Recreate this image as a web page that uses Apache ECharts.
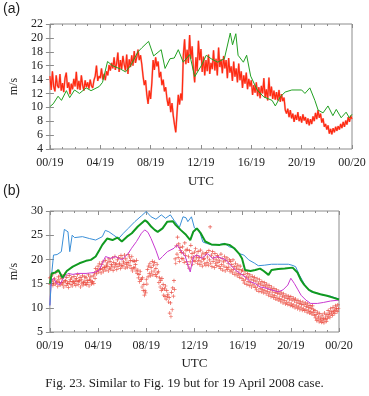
<!DOCTYPE html>
<html>
<head>
<meta charset="utf-8">
<script src="https://cdn.jsdelivr.net/npm/echarts@6/dist/echarts.min.js"></script>
<style>
  html, body { margin: 0; padding: 0; background: #fff; }
  #chart { width: 369px; height: 396px; }
</style>
</head>
<body>
<div id="chart"></div>
<script>
// tick labels, one every 4 hours
const timeLabels = ["00/19", "04/19", "08/19", "12/19", "16/19", "20/19", "00/20"];
const sampleStep = 0.1; // hours between samples of the dense series

// (a) observed wind speed, one value every 0.1 h
const obsA = [
  14.5, 12.5, 15.2, 13, 12.3, 14.6, 13.1, 12.8, 14.8, 12.4,
  13.5, 12.2, 14.2, 15, 12.8, 13.6, 11.9, 13.4, 12.6, 14.1,
  13, 15.1, 12.6, 13.8, 12.5, 14.6, 13.2, 12.4, 13.9, 12.9,
  13.6, 12.7, 14, 13.1, 12.8, 13.9, 14.5, 16, 13.8, 14.5,
  14.2, 15.6, 14, 14.8, 13.9, 15.2, 14.6, 16.1, 15.3, 16.4,
  15.6, 17.2, 15.4, 16.3, 17.9, 15.1, 16.8, 15.5, 17.4, 16.2,
  15.3, 17.6, 14.8, 16.9, 15.8, 17.5, 16, 18.1, 16.4, 17.2,
  18.3, 16.8, 17.5, 16.2, 14.5, 13.2, 13.9, 11.8, 10.5, 12.4,
  11.2, 13.6, 16.8, 15.4, 17.2, 15.9, 16.6, 14.3, 15.1, 13.2,
  14, 12.3, 12.9, 11.2, 10.2, 11.4, 9.3, 10.6, 8.8, 7.5,
  6.4, 9.2, 11.8, 10.4, 12, 11, 17.5, 19.8, 16.2, 18.3,
  16.4, 20.4, 17, 18.8, 15.6, 13.6, 17.2, 15.2, 19.6, 16.8,
  18.4, 15.1, 17.3, 14.6, 16.8, 15.2, 17.6, 14.8, 16.4, 15.5,
  18.2, 15.3, 17, 14.6, 18.6, 15.8, 16.9, 14.9, 17.4, 15.6,
  16.8, 14.2, 17.1, 15, 15.9, 13.8, 16.6, 14.4, 15.6, 13.6,
  16.3, 13.9, 15.2, 12.8, 14.6, 13.4, 15, 12.6, 14.1, 13,
  13.9, 11.8, 13.2, 12.1, 13.6, 11.6, 12.9, 11.3, 13.1, 12,
  14.2, 11.4, 12.6, 11, 14.3, 11.6, 13, 11.2, 12.4, 11.1,
  12.2, 11, 12.5, 10.8, 11.9, 10.9, 11.4, 9.6, 9.1, 9.8,
  8.6, 9.6, 8.4, 9.1, 7.9, 8.9, 8.2, 9.3, 8, 8.7,
  7.8, 9, 8.1, 8.6, 7.6, 8.4, 7.4, 8.3, 7.6, 8.7,
  8, 9.2, 8.3, 9.6, 8.5, 9.1, 7.8, 8.4, 7.2, 7.6,
  6.8, 7.4, 6.2, 6.9, 6.1, 7, 6.4, 7.2, 6.6, 7.3,
  6.8, 7.6, 7, 7.9, 7.2, 8.1, 7.5, 8.6, 7.9, 8.8, 8.3
];

// (a) model, [hour, m/s]
const modelA = [
  [0, 10.1], [0.26, 10.5], [0.65, 11.6], [0.92, 11], [1.31, 12.4], [1.57, 11.4],
  [1.96, 12.5], [2.35, 12], [2.88, 12.8], [3.27, 12.4], [3.92, 13], [4.18, 13.6],
  [4.58, 16.6], [4.97, 16], [5.62, 15.5], [6.01, 15.1], [6.41, 16], [7.0, 18],
  [7.32, 18.6], [7.84, 19.5], [8.24, 17.4], [8.84, 18.3], [9.15, 15.6], [9.54, 17],
  [9.88, 17.1], [10.2, 18.3], [10.59, 16.5], [11.11, 17.6], [11.5, 14.4], [12.03, 16],
  [12.42, 17.5], [12.81, 17], [13.33, 16.5], [13.86, 17], [14.33, 20.7], [14.51, 19],
  [14.77, 20.6], [14.95, 17.5], [15.37, 16.5], [15.63, 17.5], [15.95, 14.5], [16.47, 12.5],
  [16.99, 11.5], [17.65, 11], [17.91, 10.2], [18.3, 11.5], [18.69, 12.2], [19.22, 12.5],
  [20.0, 12.5], [20.26, 12], [20.65, 12.8], [21.05, 11], [21.31, 9.6], [21.7, 9.2],
  [22.09, 10.2], [22.48, 8.8], [22.75, 9.7], [23.14, 8.5], [23.53, 9.3], [23.79, 8.5], [24, 9]
];

// (b) lines, [hour, m/s]
const blueB = [
  [0, 10.5], [0.15, 17], [0.3, 20.9], [0.6, 21], [0.95, 21.6], [1.2, 26.2], [1.35, 26.5],
  [1.5, 25.7], [1.65, 21.6], [1.75, 21.5], [1.85, 25], [2.05, 24.5], [2.7, 24.7], [3.3, 24.3],
  [3.8, 24], [4.35, 24.7], [4.6, 26], [4.9, 25.7], [5.3, 25], [5.7, 24.3], [6.1, 25.4],
  [6.5, 26.4], [7.05, 27.8], [7.6, 29], [8.0, 29.9], [8.4, 28.8], [8.8, 28.3], [9.25, 29.2],
  [9.6, 28.5], [10.0, 29.2], [10.3, 28.1], [10.75, 26.6], [11.05, 28.8], [11.3, 28.6],
  [11.45, 27.8], [11.75, 28.8], [12.0, 26.5], [12.4, 26], [12.7, 23.6], [13.0, 23.3],
  [13.5, 23], [14.1, 23.1], [14.5, 23.3], [14.9, 22.6], [15.3, 22.3], [15.7, 21.2],
  [16.1, 20.9], [16.5, 19.9], [17.0, 19.2], [17.3, 18.7], [17.8, 18.8], [18.4, 19],
  [18.9, 19], [19.8, 19], [20.1, 18.8], [20.4, 18.5], [20.7, 16.8], [20.95, 15.7],
  [21.25, 14.3], [21.65, 13.3], [22.2, 13], [22.7, 12.6], [23.3, 12.4], [24, 11.8]
];
const greenB = [
  [0, 15], [0.15, 17.1], [0.45, 17.3], [0.7, 17.8], [1.05, 16.2], [1.4, 17.6], [1.9, 18.5],
  [2.45, 19.2], [3.0, 19.7], [3.4, 19.9], [3.8, 20.6], [4.1, 21.9], [4.35, 23], [4.75, 24.3],
  [5.2, 24], [5.6, 24.5], [5.97, 23.7], [6.4, 24.7], [6.8, 25.4], [7.3, 26.8], [7.9, 28.1],
  [8.1, 27.7], [8.4, 26.8], [8.7, 26.1], [8.95, 25.7], [9.35, 26.4], [9.75, 27.8], [10.2, 27.9],
  [10.45, 27.1], [10.85, 26.1], [11.25, 25.2], [11.65, 24], [11.9, 25.7], [12.2, 26.4],
  [12.5, 25.5], [12.9, 23.7], [13.4, 23.1], [14.1, 23], [14.5, 23.2], [14.9, 23], [15.3, 22.3],
  [15.7, 21.2], [15.95, 20.2], [16.2, 17.8], [16.65, 17.6], [17.05, 17.8], [17.45, 18.1],
  [17.75, 17.6], [18.15, 16.8], [18.4, 17.8], [18.95, 18], [19.5, 18.1], [20.15, 18.3],
  [20.55, 17.3], [20.85, 15.7], [21.1, 14.8], [21.5, 13.7], [21.9, 13.2], [22.45, 12.8],
  [23, 12.5], [23.5, 12.1], [24, 11.7]
];
const magentaB = [
  [0, 10.5], [0.1, 15.5], [0.3, 16.1], [0.57, 15], [0.84, 14.8], [1.11, 16.1], [1.5, 17.1],
  [1.65, 17.4], [1.92, 16.9], [2.3, 17.1], [3.0, 17.1], [3.7, 17.3], [4.1, 17.8], [4.35, 19.2],
  [4.62, 20.6], [5.03, 20.2], [5.43, 20.6], [5.97, 19.9], [6.5, 21.2], [6.78, 22.3],
  [7.19, 23.7], [7.6, 25.4], [7.87, 26.1], [8.14, 25.6], [8.4, 24.3], [8.8, 21.9], [9.08, 19.9],
  [9.35, 20.6], [9.76, 21.6], [10.3, 22.3], [10.57, 23], [10.84, 21.9], [11.24, 20.6],
  [11.5, 18.5], [11.65, 17.4], [11.9, 20.5], [12.2, 20.9], [12.6, 20.2], [13.1, 21.2],
  [13.5, 20.2], [13.9, 20.6], [14.6, 19.9], [15.0, 18.8], [15.4, 17.8], [15.8, 17.1],
  [16.2, 16.4], [16.65, 15.4], [17.05, 15], [17.45, 14.3], [17.9, 14.1], [18.4, 13.7],
  [18.95, 13.3], [19.35, 13.7], [19.75, 14.7], [20.0, 16.1], [20.3, 15], [20.6, 13.7],
  [20.85, 12.6], [21.25, 11.6], [21.65, 10.9], [22.2, 10.9], [22.7, 11.1], [23.3, 11.4], [24, 11.6]
];

// (b) observations as crosses: two samples each 0.1 h (upper and lower part of the cloud)
const obsUpperB = [
  16.2, 15.4, 16.8, 15.1, 16, 17.3, 15.5, 16.4, 15.2, 16.6,
  16.1, 15.3, 16.9, 15.6, 16.3, 15, 16.7, 15.8, 16.2, 15.4,
  16.5, 15.7, 16.1, 16.9, 15.5, 16.3, 15.9, 16.6, 15.2, 16.4,
  16.2, 15.6, 16.8, 15.9, 16.4, 15.3, 16.6, 17.2, 18.1, 17.5,
  18.6, 19.2, 18.1, 18.9, 19.5, 18.4, 19.8, 18.8, 19.3, 20.1,
  19.6, 18.9, 20.3, 19.4, 20.6, 19.1, 19.9, 20.4, 19.2, 20.8,
  20.2, 19.5, 20.9, 20.1, 19.4, 21, 20.5, 19.8, 20.6, 19.7,
  19.6, 18.9, 19.8, 17.8, 16.9, 17.5, 15.9, 16.2, 14.8, 13.5,
  15.8, 17.9, 18.6, 19.1, 18.3, 19.6, 18.8, 19.4, 18.1, 19,
  17.5, 16.2, 15.6, 16.1, 14.8, 13.9, 14.5, 13.6, 12.8, 12.1,
  11, 13.2, 14.1, 15.6, 20.1, 22.8, 24.6, 23.2, 22.5, 21.4,
  22.6, 21.3, 23.4, 21.9, 22.1, 20.6, 21.8, 22.9, 21.2, 20.5,
  21.5, 22.2, 20.8, 21.6, 20.4, 21.9, 20.7, 21.3, 20.2, 21.1,
  21.4, 20.5, 21.8, 26.7, 20.9, 21.6, 20.3, 21.2, 19.9, 20.8,
  20.4, 19.7, 21.1, 20.2, 19.5, 20.6, 19.8, 20.3, 19.2, 19.9,
  19.6, 18.9, 19.9, 18.5, 19.2, 18.2, 18.8, 17.9, 18.6, 17.6,
  17.8, 16.9, 17.5, 16.4, 17.1, 16.2, 16.8, 15.9, 16.5, 15.7,
  16.3, 15.5, 16, 15.1, 15.8, 14.9, 15.4, 14.6, 15.2, 14.4,
  14.9, 14.1, 14.6, 13.8, 14.3, 13.5, 14, 13.2, 13.7, 13,
  13.4, 12.7, 13.1, 12.4, 12.9, 12.2, 12.6, 11.9, 12.4, 11.8,
  12.3, 11.6, 12, 11.4, 11.8, 11.1, 11.5, 10.9, 11.3, 10.7,
  11.2, 10.6, 11, 10.3, 10.8, 10.1, 10.5, 9.9, 10.4, 9.6,
  9.4, 8.6, 9.1, 8.2, 8.8, 7.9, 8.5, 7.8, 8.9, 8.1,
  8.6, 9.4, 8.9, 9.8, 9.2, 10.1, 9.5, 10.4, 9.9, 10.6
];
const obsLowerB = [
  14.8, 15.6, 14.6, 15.9, 14.9, 15.3, 14.4, 15.8, 14.7, 15.2,
  14.9, 14.3, 15.5, 14.6, 15.1, 14.2, 15.4, 14.8, 14.5, 15.3,
  15, 14.6, 15.4, 14.8, 15.6, 14.3, 15.1, 14.7, 15.5, 14.9,
  14.8, 15.2, 14.5, 15.6, 14.9, 15.4, 15, 16.1, 17, 17.8,
  17.4, 17.9, 17.2, 18, 17.5, 18.3, 17.8, 18.5, 17.6, 18.2,
  18, 18.6, 17.7, 18.4, 18.9, 17.9, 18.5, 19, 18.1, 18.7,
  18.6, 19.1, 18.2, 18.9, 18.4, 19.3, 18.7, 18.1, 17.6, 18.3,
  18.2, 17.6, 17.1, 16.2, 15.4, 15.8, 14.3, 13.6, 12.6, 13.1,
  14.9, 16.4, 17.1, 16.6, 17.4, 16.8, 17.6, 16.9, 16.5, 17.2,
  15.2, 14.3, 13.6, 13.9, 12.6, 12.3, 11.8, 12.4, 11.2, 8.9,
  8.2, 9.6, 12.4, 13.8, 19.2, 21.1, 20.4, 19.6, 21.8, 20.2,
  20.1, 19.4, 20.8, 19.6, 18.9, 18.2, 19.5, 20.3, 19, 19.8,
  19.6, 20.3, 19.2, 19.8, 18.9, 19.5, 18.6, 20, 19.1, 18.8,
  19.4, 18.8, 19.9, 19.2, 18.5, 19.6, 18.3, 19.1, 18.7, 19.4,
  18.5, 18.1, 18.9, 17.8, 18.6, 17.6, 18.3, 17.9, 18.4, 17.5,
  17.8, 17.2, 17.9, 16.9, 17.4, 16.6, 17.1, 16.3, 16.9, 16.1,
  15.6, 15.1, 15.9, 14.8, 15.4, 14.6, 15.2, 14.3, 14.9, 14.5,
  14.2, 13.7, 14.5, 13.4, 14, 13.3, 13.8, 13.1, 13.6, 12.9,
  13.4, 12.6, 13.1, 12.3, 12.8, 12.1, 12.5, 11.8, 12.2, 11.6,
  11.9, 11.3, 11.7, 11, 11.5, 10.8, 11.2, 10.7, 11.1, 10.5,
  10.8, 10.3, 10.6, 10, 10.4, 9.8, 10.2, 9.6, 10, 9.5,
  9.8, 9.4, 9.7, 9.1, 9.5, 8.9, 9.2, 8.7, 9, 8.4,
  7.9, 7.4, 7.7, 7.1, 7.5, 7, 7.3, 6.9, 7.6, 7.2,
  7.8, 8.3, 8, 8.7, 8.4, 9.1, 8.8, 9.5, 9.2, 9.8
];

const textColor = "#222";
const frameColor = "#8c8c8c";
const serif = "Liberation Serif";
const plusSymbol = "path://M3.3,0H4.7V8H3.3ZM0,3.3H8V4.7H0Z";

const withTime = (values, offset) => values.map((v, i) => [i * sampleStep + offset, v]);

function xAxes(gridIndex, nameGap) {
  const base = {
    gridIndex, type: "value", min: 0, max: 24, interval: 4,
    axisLine: { show: false },
    axisTick: { show: true, inside: true, length: 4, lineStyle: { color: frameColor } },
    minorTick: { show: true, splitNumber: 4, length: 2, lineStyle: { color: frameColor } },
    splitLine: { show: false },
  };
  return [
    {
      ...base,
      name: "UTC", nameLocation: "middle", nameGap,
      nameTextStyle: { fontFamily: serif, fontSize: 13, color: textColor },
      axisLabel: {
        fontFamily: serif, fontSize: 12, color: textColor, margin: 8,
        formatter: (v) => timeLabels[v / 4],
      },
    },
    { ...base, position: "top", axisLabel: { show: false } },
  ];
}

function yAxes(gridIndex, min, max, interval, nameGap) {
  const base = {
    gridIndex, type: "value", min, max, interval,
    axisLine: { show: false },
    axisTick: { show: true, inside: true, length: 4, lineStyle: { color: frameColor } },
    splitLine: { show: false },
  };
  return [
    {
      ...base,
      name: "m/s", nameLocation: "middle", nameGap, nameRotate: 90,
      nameTextStyle: { fontFamily: serif, fontSize: 12, color: textColor },
      axisLabel: { fontFamily: serif, fontSize: 12, color: textColor, margin: 7 },
    },
    { ...base, position: "right", axisLabel: { show: false } },
  ];
}

const chart = echarts.init(document.getElementById("chart"), null, { renderer: "canvas" });

chart.setOption({
  animation: false,
  backgroundColor: "#fff",
  grid: [
    { left: 46, top: 24, width: 306, height: 125, show: true, borderColor: frameColor, borderWidth: 1 },
    { left: 43, top: 211, width: 296, height: 121, show: true, borderColor: frameColor, borderWidth: 1 },
  ],
  xAxis: [...xAxes(0, 26), ...xAxes(1, 25)],
  yAxis: [...yAxes(0, 4, 22, 2, 28), ...yAxes(1, 5, 30, 5, 28)],
  graphic: [
    { type: "text", left: 3, top: 2, style: { text: "(a)", font: "14px Liberation Sans", fill: textColor } },
    { type: "text", left: 3, top: 184, style: { text: "(b)", font: "14px Liberation Sans", fill: textColor } },
    {
      type: "text", left: "center", top: 377,
      style: { text: "Fig. 23. Similar to Fig. 19 but for 19 April 2008 case.", font: "13px Liberation Serif", fill: textColor },
    },
  ],
  series: [
    {
      type: "line", xAxisIndex: 0, yAxisIndex: 0, data: withTime(obsA, 0),
      showSymbol: false, lineStyle: { color: "#f6b0b0", width: 2 }, z: 1,
    },
    {
      type: "line", xAxisIndex: 0, yAxisIndex: 0, data: withTime(obsA, 0),
      showSymbol: false, lineStyle: { color: "#ff2a10", width: 1.2 }, z: 2,
    },
    {
      type: "line", xAxisIndex: 0, yAxisIndex: 0, data: modelA,
      showSymbol: false, lineStyle: { color: "#22a022", width: 1 }, z: 3,
    },
    {
      type: "scatter", xAxisIndex: 2, yAxisIndex: 2, data: withTime(obsUpperB, 0),
      symbol: plusSymbol, symbolSize: 4, itemStyle: { color: "#e42a1e" }, z: 1,
    },
    {
      type: "scatter", xAxisIndex: 2, yAxisIndex: 2, data: withTime(obsLowerB, 0.05),
      symbol: plusSymbol, symbolSize: 4, itemStyle: { color: "#ea3a2c" }, z: 1,
    },
    {
      type: "line", xAxisIndex: 2, yAxisIndex: 2, data: magentaB,
      showSymbol: false, lineStyle: { color: "#c83ad0", width: 1 }, z: 3,
    },
    {
      type: "line", xAxisIndex: 2, yAxisIndex: 2, data: blueB,
      showSymbol: false, lineStyle: { color: "#3a8fd8", width: 1 }, z: 4,
    },
    {
      type: "line", xAxisIndex: 2, yAxisIndex: 2, data: greenB,
      showSymbol: false, lineStyle: { color: "#109a20", width: 2 }, z: 5,
    },
  ],
});
</script>
</body>
</html>
